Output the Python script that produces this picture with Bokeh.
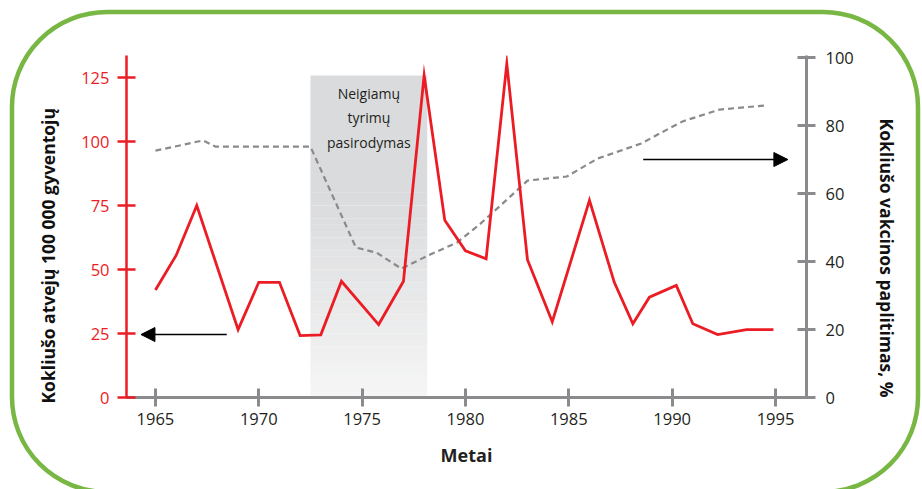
import numpy as np
from bokeh.plotting import figure
from bokeh.models import (Range1d, LinearAxis, FixedTicker, Arrow, NormalHead,
                          Label, Title)
from bokeh.embed import file_html
from bokeh.resources import INLINE

# ---- data ----
years_cases = [1965, 1966, 1967, 1969, 1970, 1971, 1972, 1973, 1974, 1975.8,
               1977, 1978, 1979, 1980, 1981, 1982, 1983, 1984.2, 1986, 1987.2,
               1988.1, 1988.9, 1990.2, 1991, 1992.2, 1993.6, 1994.9]
cases = [42, 55.5, 75, 26.5, 45, 45, 24.2, 24.5, 45.4, 28.5,
         45.4, 125.8, 69.2, 57.3, 54.2, 130.4, 53.8, 29.6, 77, 45,
         28.8, 39.2, 43.8, 28.8, 24.6, 26.5, 26.5]

years_cov = [1965, 1967.3, 1967.9, 1972.5, 1974.7, 1975.7, 1976.9, 1978.2,
             1979.6, 1980.7, 1981.7, 1983.0, 1984.9, 1986.4, 1988.5, 1989.5,
             1990.5, 1992.3, 1994.5]
coverage = [72.6, 75.6, 73.8, 73.8, 44.1, 42.6, 37.9, 41.8,
            45.6, 51, 56.5, 63.8, 65, 70.3, 74.7, 78, 81.2, 84.7, 85.9]

x_ticks = [1965, 1970, 1975, 1980, 1985, 1990, 1995]
left_ticks = [0, 25, 50, 75, 100, 125]
right_ticks = [0, 20, 40, 60, 80, 100]

shade_start, shade_end, shade_top = 1972.5, 1978.15, 125.8
shade_text = "Neigiamų\ntyrimų\npasirodymas"

x_title = "Metai"
left_title = "Kokliušo atvejų 100 000 gyventojų"
right_title = "Kokliušo vakcinos paplitimas, %"

RED = "#ec1c24"
AXGRAY = "#8b8b8d"
DARK = "#231f20"
FONT = "Open Sans"
W, H = 922, 489

# rounded green frame drawn as the page background of the plot element
frame_svg = ("data:image/svg+xml;utf8,"
             "<svg xmlns='http://www.w3.org/2000/svg' width='%d' height='%d'>"
             "<rect x='12' y='12' width='906' height='480' rx='95' ry='95' "
             "fill='none' stroke='%%2378b743' stroke-width='4.5'/></svg>" % (W, H))

p = figure(width=W, height=H,
           x_range=Range1d(1963.6, 1996.5), y_range=Range1d(0, 133.6),
           output_backend="svg", toolbar_location=None,
           min_border_left=126, min_border_right=116,
           min_border_top=55, min_border_bottom=92)
p.styles = {"background-image": 'url("%s")' % frame_svg,
            "background-repeat": "no-repeat",
            "background-color": "white"}
p.extra_y_ranges = {"cov": Range1d(0, 100.6)}
p.xgrid.visible = False
p.ygrid.visible = False
p.outline_line_color = None
p.background_fill_color = None
p.border_fill_color = None

# shaded period with vertical gradient
solid_from = 80.0
n = 32
edges = np.linspace(0, solid_from, n + 1)
c_top = np.array([0xda, 0xdb, 0xdd])
c_bot = np.array([0xf6, 0xf6, 0xf6])
cols = []
for i in range(n):
    t = (edges[i] + edges[i + 1]) / 2 / solid_from
    c = (c_bot + (c_top - c_bot) * t).astype(int)
    cols.append("#%02x%02x%02x" % tuple(c))
bottoms = list(edges[:-1]) + [solid_from]
tops = list(edges[1:] + 0.05) + [shade_top]
cols.append("#dadbdd")
p.quad(left=[shade_start] * len(bottoms), right=[shade_end] * len(bottoms),
       bottom=bottoms, top=tops, fill_color=cols, line_color=None)

p.add_layout(Label(x=(shade_start + shade_end) / 2, y=122.5, text=shade_text,
                   text_align="center", text_baseline="top",
                   text_font=FONT, text_font_size="14px", text_color=DARK,
                   text_line_height=1.28))

# series
p.line(years_cov, coverage, y_range_name="cov", line_color="#8a8a8a",
       line_width=2.2, line_dash="6 4")
p.line(years_cases, cases, line_color=RED, line_width=2.8, line_join="miter")

# arrows
p.add_layout(Arrow(end=NormalHead(size=14, fill_color="black", line_color="black"),
                   x_start=1968.45, y_start=24.6, x_end=1964.3, y_end=24.6,
                   line_width=1.6, line_color="black"))
p.add_layout(Arrow(end=NormalHead(size=14, fill_color="black", line_color="black"),
                   x_start=1988.6, y_start=70, x_end=1995.6, y_end=70,
                   y_range_name="cov", line_width=1.6, line_color="black"))

# x axis
xa = p.xaxis[0]
xa.ticker = FixedTicker(ticks=x_ticks)
xa.axis_line_color = AXGRAY
xa.axis_line_width = 3
xa.major_tick_line_color = AXGRAY
xa.major_tick_line_width = 3
xa.major_tick_in = 9
xa.major_tick_out = 9
xa.minor_tick_line_color = None
xa.major_label_text_font = FONT
xa.major_label_text_font_size = "16.5px"
xa.major_label_text_color = DARK
xa.major_label_standoff = 6
xa.axis_label = x_title
xa.axis_label_text_font = FONT
xa.axis_label_text_font_style = "bold"
xa.axis_label_text_font_size = "18px"
xa.axis_label_text_color = DARK
xa.axis_label_standoff = 15

# left axis
ya = p.yaxis[0]
ya.ticker = FixedTicker(ticks=left_ticks)
ya.axis_line_color = RED
ya.axis_line_width = 2.5
ya.major_tick_line_color = RED
ya.major_tick_line_width = 2.5
ya.major_tick_in = 9
ya.major_tick_out = 9
ya.minor_tick_line_color = None
ya.major_label_text_font = FONT
ya.major_label_text_font_size = "16.5px"
ya.major_label_text_color = RED
ya.major_label_standoff = 8

# right axis
ra = LinearAxis(y_range_name="cov", ticker=FixedTicker(ticks=right_ticks))
ra.axis_line_color = AXGRAY
ra.axis_line_width = 3
ra.major_tick_line_color = AXGRAY
ra.major_tick_line_width = 3
ra.major_tick_in = 9
ra.major_tick_out = 9
ra.minor_tick_line_color = None
ra.major_label_text_font = FONT
ra.major_label_text_font_size = "16.5px"
ra.major_label_text_color = DARK
ra.major_label_standoff = 10
p.add_layout(ra, "right")

# titles of the two value axes, in the side panels
p.add_layout(Title(text=left_title, align="left", offset=-6, standoff=38,
                   text_font=FONT, text_font_style="bold",
                   text_font_size="17.5px", text_color="#111111"), "left")
p.add_layout(Title(text=right_title, align="right", offset=0, standoff=37,
                   text_font=FONT, text_font_style="bold",
                   text_font_size="17.5px", text_color="#111111"), "right")

open("out.html", "w").write(file_html(p, INLINE))
